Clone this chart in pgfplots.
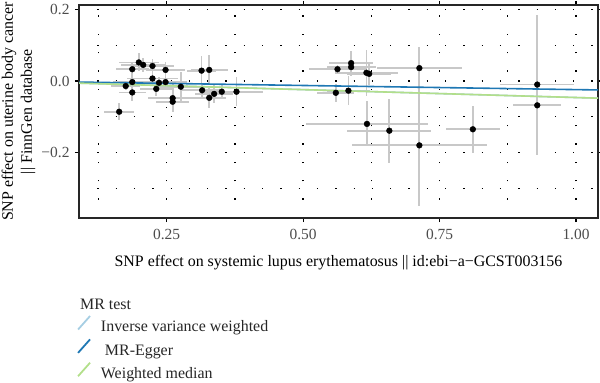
\documentclass[border=0pt]{standalone}
\usepackage{fontspec}
\setmainfont{Liberation Serif}
\usepackage{pgfplots}
\usepackage{pgfplotstable}
\pgfplotsset{compat=1.18}
\definecolor{ivw}{HTML}{A6CEE3}
\definecolor{egger}{HTML}{1F78B4}
\definecolor{wmed}{HTML}{B2DF8A}
\definecolor{errgray}{HTML}{C8C8C8}

\pgfplotstableread{
x y ex ey
0.163 -0.086 0.028 0.024
0.175 -0.014 0.027 0.012
0.187 0.033 0.030 0.021
0.187 -0.003 0.035 0.015
0.187 -0.032 0.025 0.023
0.199 0.052 0.037 0.025
0.207 0.045 0.040 0.020
0.224 0.042 0.040 0.020
0.224 0.007 0.047 0.020
0.231 -0.022 0.030 0.020
0.236 -0.005 0.050 0.015
0.248 0.031 0.035 0.023
0.248 -0.003 0.040 0.020
0.261 -0.048 0.045 0.040
0.261 -0.058 0.030 0.030
0.276 -0.016 0.040 0.042
0.314 0.029 0.027 0.042
0.328 0.031 0.034 0.042
0.315 -0.026 0.039 0.020
0.328 -0.047 0.030 0.028
0.337 -0.036 0.035 0.026
0.351 -0.030 0.030 0.020
0.378 -0.030 0.048 0.040
0.560 -0.033 0.034 0.025
0.563 0.033 0.052 0.012
0.583 -0.027 0.040 0.040
0.588 0.050 0.040 0.035
0.588 0.039 0.045 0.020
0.616 0.023 0.058 0.065
0.621 0.020 0.040 0.030
0.617 -0.120 0.112 0.063
0.658 -0.139 0.077 0.090
0.713 0.036 0.078 0.060
0.713 -0.180 0.123 0.170
0.811 -0.135 0.050 0.065
0.929 -0.010 0.068 0.196
0.929 -0.068 0.044 0.020
}\snp

\begin{document}
\begin{tikzpicture}
\path[use as bounding box] (0,0) rectangle (600bp,383bp);
\begin{axis}[
  at={(79bp,165bp)}, anchor=south west,
  scale only axis, width=519bp, height=213bp,
  xmin=0.0894, xmax=1.0403, ymin=-0.3832, ymax=0.2126,
  xtick={0.25,0.5,0.75,1.0}, xticklabels={0.25,0.50,0.75,1.00},
  ytick={-0.2,0,0.2}, yticklabels={−0.2,0.0,0.2},
  minor xtick={0.125,0.375,0.625,0.875}, minor ytick={-0.3,-0.1,0.1},
  grid=both,
  major grid style={black, line width=1.3bp, dash pattern=on 1.3bp off 17bp},
  minor grid style={black, line width=1.3bp, dash pattern=on 1.3bp off 17bp},
  axis line style={line width=1.4bp, black!85},
  tick align=outside, major tick length=4bp, minor tick length=0pt,
  tick style={line width=1.2bp, black},
  /pgf/number format/assume math mode=true,
  ticklabel style={font=\fontsize{15.5}{18}\selectfont, text=black!70},
  xticklabel style={yshift=-4bp},
  yticklabel style={xshift=-2bp},
  xlabel={SNP effect on systemic lupus erythematosus || id:ebi−a−GCST003156},
  xlabel style={font=\fontsize{16}{19}\selectfont, at={(axis description cs:0.5,0)}, anchor=center, yshift=-44.7bp},
  ylabel={SNP effect on uterine body cancer\\|| FinnGen database},
  ylabel style={font=\fontsize{16}{19}\selectfont, align=center, at={(axis description cs:0,0.5)}, anchor=center, yshift=60.5bp},
  legend cell align=left,
  legend style={draw=none, fill=none, at={(rel axis cs:-0.0039,-0.455)}, anchor=north west,
    inner sep=0pt, row sep=3.2bp,
    font=\fontsize{16}{19}\selectfont, text=black!85,
    nodes={inner sep=0pt, text height=11bp, text depth=3.5bp}},
  legend image code/.code={\draw[#1, line width=1.8bp] (0bp,-1.5bp) -- (12bp,12bp);},
  /tikz/every odd column/.append style={column sep=10bp},
]
\addplot[forget plot, only marks, mark=none,
  error bars/.cd, x dir=both, x explicit, y dir=both, y explicit,
  error mark=none, error bar style={draw=errgray, line width=1.8bp}]
  table[x=x, y=y, x error=ex, y error=ey] {\snp};
\addplot[forget plot, only marks, mark=*, mark size=2.9bp, black] table[x=x, y=y] {\snp};
\addplot[ivw, line width=1.6bp, mark=none] coordinates {(0.0894,-0.0060) (1.0403,-0.0480)};
\addlegendentry{Inverse variance weighted}
\addplot[egger, line width=1.6bp, mark=none] coordinates {(0.0894,-0.0030) (1.0403,-0.0250)};
\addlegendentry{\ MR-Egger}
\addplot[wmed, line width=1.6bp, mark=none] coordinates {(0.0894,-0.0060) (1.0403,-0.0480)};
\addlegendentry{Weighted median}
\end{axis}
\node[anchor=west, inner sep=0pt, font=\fontsize{16}{19}\selectfont, text=black!85] at (80bp,79bp) {MR test};
\end{tikzpicture}
\end{document}
